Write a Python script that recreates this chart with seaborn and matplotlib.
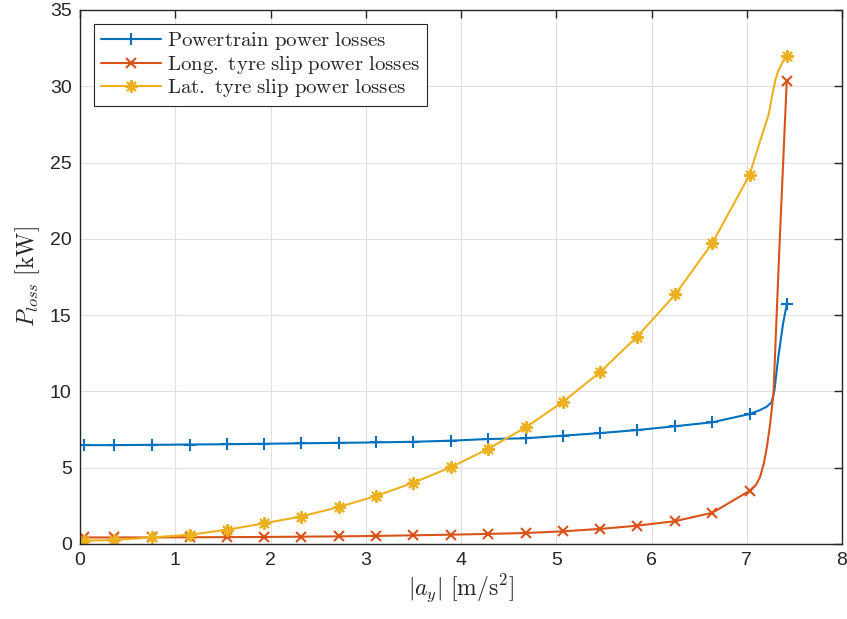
import numpy as np
import pandas as pd
import matplotlib
matplotlib.use("Agg")
import matplotlib.pyplot as plt
import seaborn as sns

# ---- data ----
# marker positions (shared by all three series)
ay_markers = [0.04, 0.36, 0.76, 1.155, 1.54, 1.93, 2.32, 2.72, 3.11, 3.50,
              3.89, 4.28, 4.68, 5.07, 5.46, 5.85, 6.25, 6.64, 7.03, 7.42]

pt_markers = [6.48, 6.48, 6.50, 6.52, 6.54, 6.57, 6.60, 6.63, 6.66, 6.70,
              6.77, 6.88, 6.93, 7.10, 7.27, 7.47, 7.72, 7.98, 8.52, 15.70]
long_markers = [0.43, 0.43, 0.43, 0.44, 0.45, 0.46, 0.48, 0.50, 0.53, 0.57,
                0.61, 0.66, 0.72, 0.83, 0.99, 1.20, 1.50, 2.05, 3.49, 30.37]
lat_markers = [0.22, 0.26, 0.43, 0.61, 0.93, 1.35, 1.80, 2.43, 3.15, 4.02,
               5.02, 6.22, 7.64, 9.32, 11.26, 13.60, 16.36, 19.74, 24.20, 32.00]

# extra curve points read between the last two markers (steep region)
pt_extra_x = [7.14, 7.21, 7.26, 7.29, 7.33, 7.38]
pt_extra_y = [8.78, 9.00, 9.28, 10.04, 12.20, 14.40]
long_extra_x = [7.10, 7.14, 7.18, 7.21, 7.24, 7.26, 7.28, 7.34]
long_extra_y = [3.90, 4.40, 5.30, 6.30, 7.60, 8.70, 9.80, 19.00]
lat_extra_x = [7.14, 7.23, 7.27, 7.30, 7.33, 7.37]
lat_extra_y = [26.40, 28.15, 29.50, 30.40, 31.00, 31.50]

labels = ["Powertrain power losses",
          "Long. tyre slip power losses",
          "Lat. tyre slip power losses"]
colors = ["#0072BD", "#D95319", "#EDB120"]
x_ticks = [0, 1, 2, 3, 4, 5, 6, 7, 8]
y_ticks = [0, 5, 10, 15, 20, 25, 30, 35]


def build(mx, my, ex, ey):
    df = pd.DataFrame({"ay": list(mx) + list(ex), "P": list(my) + list(ey),
                       "m": [True] * len(mx) + [False] * len(ex)})
    df = df.sort_values("ay").reset_index(drop=True)
    return df, list(np.flatnonzero(df["m"].values))


series = [build(ay_markers, pt_markers, pt_extra_x, pt_extra_y),
          build(ay_markers, long_markers, long_extra_x, long_extra_y),
          build(ay_markers, lat_markers, lat_extra_x, lat_extra_y)]

sns.set_style("white")
plt.rcParams["mathtext.fontset"] = "cm"
plt.rcParams["font.family"] = ["Liberation Sans", "DejaVu Sans"]

fig = plt.figure(figsize=(8.47, 6.19), dpi=100)
ax = fig.add_axes([80 / 847, 75 / 619, 762 / 847, 534 / 619])

markers = ["+", "x", (8, 2, 0)]
msizes = [9, 7, 9]
for (df, idx), lab, col, mk, ms in zip(series, labels, colors, markers, msizes):
    sns.lineplot(data=df, x="ay", y="P", ax=ax, color=col, marker=mk,
                 markevery=idx, markersize=ms, markeredgewidth=1.5,
                 markeredgecolor=col, markerfacecolor=col,
                 linewidth=1.5, label=r"$\mathrm{" + lab.replace(" ", r"\ ") + "}$",
                 sort=False, estimator=None)

ax.set_xlim(0, 8)
ax.set_ylim(0, 35)
ax.set_xticks(x_ticks)
ax.set_yticks(y_ticks)
ax.tick_params(direction="in", top=True, right=True, length=6, width=1,
               labelsize=14, colors="#262626", pad=6)
ax.grid(True, color="#e0e0e0", linewidth=0.8)
for s in ax.spines.values():
    s.set_color("#262626")
    s.set_linewidth(1)

ax.set_xlabel(r"$|a_y|\ \mathrm{[m/s^2]}$", fontsize=17, color="#262626", labelpad=2)
ax.set_ylabel(r"$P_{loss}\ \mathrm{[kW]}$", fontsize=17, color="#262626", labelpad=6)

leg = ax.legend(loc="upper left", bbox_to_anchor=(0.019, 0.974), fontsize=15,
                frameon=True, fancybox=False, framealpha=1, edgecolor="#262626",
                handlelength=2.9, borderpad=0.3, labelspacing=0.08,
                handletextpad=0.3, borderaxespad=0)
leg.get_frame().set_linewidth(0.8)

fig.savefig("out.png", dpi=100)
